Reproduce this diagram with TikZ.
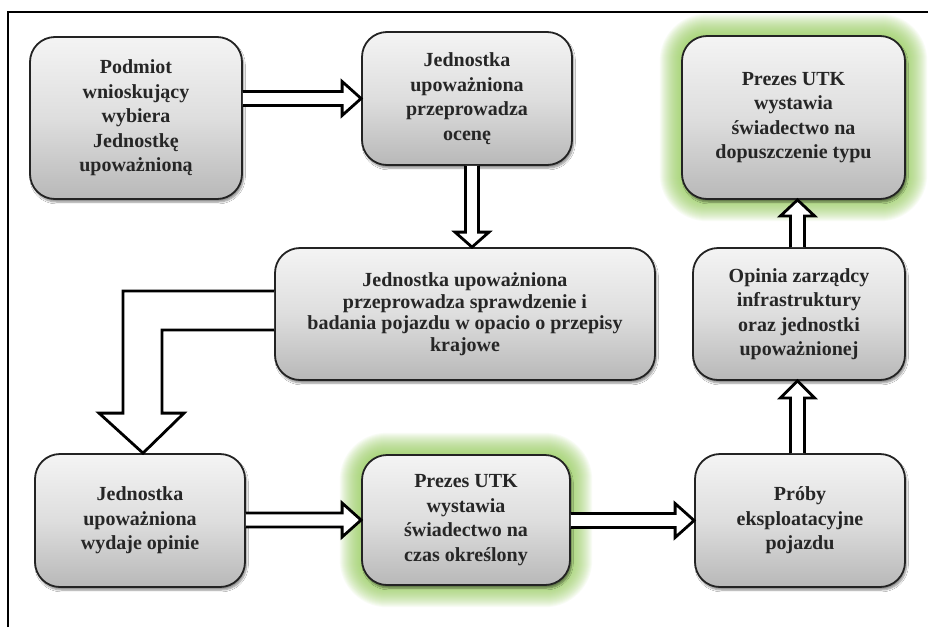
\documentclass[tikz,border=0pt]{standalone}
\usepackage{fontspec}
\setmainfont{Liberation Serif}
\usetikzlibrary{calc,shadows.blur}
\definecolor{glowc}{RGB}{150,206,90}
\definecolor{boxline}{RGB}{35,35,35}
\definecolor{boxtop}{RGB}{244,244,244}
\definecolor{boxmid}{RGB}{222,222,222}
\definecolor{boxbot}{RGB}{184,184,184}
\tikzset{
  stepbox/.style={draw=boxline, line width=1.8pt, rounded corners=25pt,
    top color=boxtop, bottom color=boxbot, middle color=boxmid,
    blur shadow={shadow xshift=1.5pt, shadow yshift=-3pt, shadow opacity=45, shadow blur steps=6},
    align=center, inner sep=4pt, text=black!85,
    font=\fontsize{20}{24.5}\selectfont\bfseries},
  blk/.style={draw=black, line width=2.8pt, fill=white, line join=miter},
}
\newcommand\glowbox[1]{%
  \foreach \i in {1,...,22}{%
    \pgfmathsetmacro\rr{25+\i}%
    \fill[glowc, opacity=0.06, rounded corners=\rr pt]
      ($(#1.south west)+(-\i,-\i)$) rectangle ($(#1.north east)+(\i,\i)$);
  }%
}
% horizontal block arrow: from, to
\newcommand\harr[2]{%
  \draw[blk] ($(#1.east|-#2.west)+(0,7)$) -- ($(#2.west)+(-19,7)$) -- ($(#2.west)+(-19,17)$)
    -- (#2.west) -- ($(#2.west)+(-19,-17)$) -- ($(#2.west)+(-19,-7)$) -- ($(#1.east|-#2.west)+(0,-7)$);
}
% vertical block arrow: tip coord, start coord, half shaft, half head, signed head length
\newcommand\varr[5]{%
  \draw[blk] ($(#2)+(-#3,0)$) -- ($(#1)+(-#3,#5)$) -- ($(#1)+(-#4,#5)$) -- (#1)
    -- ($(#1)+(#4,#5)$) -- ($(#1)+(#3,#5)$) -- ($(#2)+(#3,0)$);
}
\begin{document}
\begin{tikzpicture}[x=1pt,y=1pt]
\useasboundingbox (0,0) rectangle (928,-627);
\fill[white] (0,0) rectangle (928,-627);
% frame
\draw[line width=2pt, black] (8,-627) -- (8,-12) -- (928,-12);

% invisible placeholders for glow geometry
\path (793.5,-117.5) node[minimum width=223pt, minimum height=163pt, inner sep=0pt] (g1) {};
\path (466,-520) node[minimum width=208pt, minimum height=130pt, inner sep=0pt] (g2) {};
\glowbox{g1}
\glowbox{g2}

% boxes
\node[stepbox, minimum width=212pt, minimum height=162pt] (pod) at (136,-118)
  {Podmiot\\wnioskujący\\wybiera\\Jednostkę\\upoważnioną};
\node[stepbox, minimum width=210pt, minimum height=133pt] (oc) at (467,-98.5)
  {Jednostka\\upoważniona\\przeprowadza\\ocenę};
\node[stepbox, minimum width=223pt, minimum height=163pt] (pr1) at (793.5,-117.5)
  {Prezes UTK\\wystawia\\świadectwo na\\dopuszczenie typu};
\node[stepbox, minimum width=380pt, minimum height=132pt,
  font=\fontsize{20}{21.5}\selectfont\bfseries] (mid) at (465,-314)
  {Jednostka upoważniona\\przeprowadza sprawdzenie i\\badania pojazdu w opacio o przepisy\\krajowe};
\node[stepbox, minimum width=212pt, minimum height=132pt] (op) at (799,-314)
  {Opinia zarządcy\\infrastruktury\\oraz jednostki\\upoważnionej};
\node[stepbox, minimum width=210pt, minimum height=133pt] (wy) at (140,-520.5)
  {Jednostka\\upoważniona\\wydaje opinie};
\node[stepbox, minimum width=208pt, minimum height=130pt] (cz) at (466,-520)
  {Prezes UTK\\wystawia\\świadectwo na\\czas określony};
\node[stepbox, minimum width=210pt, minimum height=133pt] (pb) at (800,-520.5)
  {Próby\\eksploatacyjne\\pojazdu};

% horizontal arrows
\harr{pod}{oc}
\harr{wy}{cz}
\harr{cz}{pb}

% vertical arrows
\coordinate (t1) at ($(mid.north)+(7,0)$);
\coordinate (s1) at (t1|-oc.south);
\varr{t1}{s1}{6.5}{17}{15}
\coordinate (t2) at ($(op.south)+(-1.5,0)$);
\coordinate (s2) at (t2|-pb.north);
\varr{t2}{s2}{7}{17}{-17}
\coordinate (t3) at ($(pr1.south)+(4,0)$);
\coordinate (s3) at (t3|-op.north);
\varr{t3}{s3}{7}{17}{-16}

% bent block arrow
\coordinate (Lt) at ($(wy.north)+(3,0)$);
\coordinate (Lo) at ($(mid.west)+(0,23)$);
\coordinate (Li) at ($(mid.west)+(0,-16)$);
\draw[blk] (Lo) -| ($(Lt)+(-20,40)$) -- ($(Lt)+(-44,40)$) -- (Lt)
  -- ($(Lt)+(41,40)$) -- ($(Lt)+(19,40)$) |- (Li);
\end{tikzpicture}
\end{document}
